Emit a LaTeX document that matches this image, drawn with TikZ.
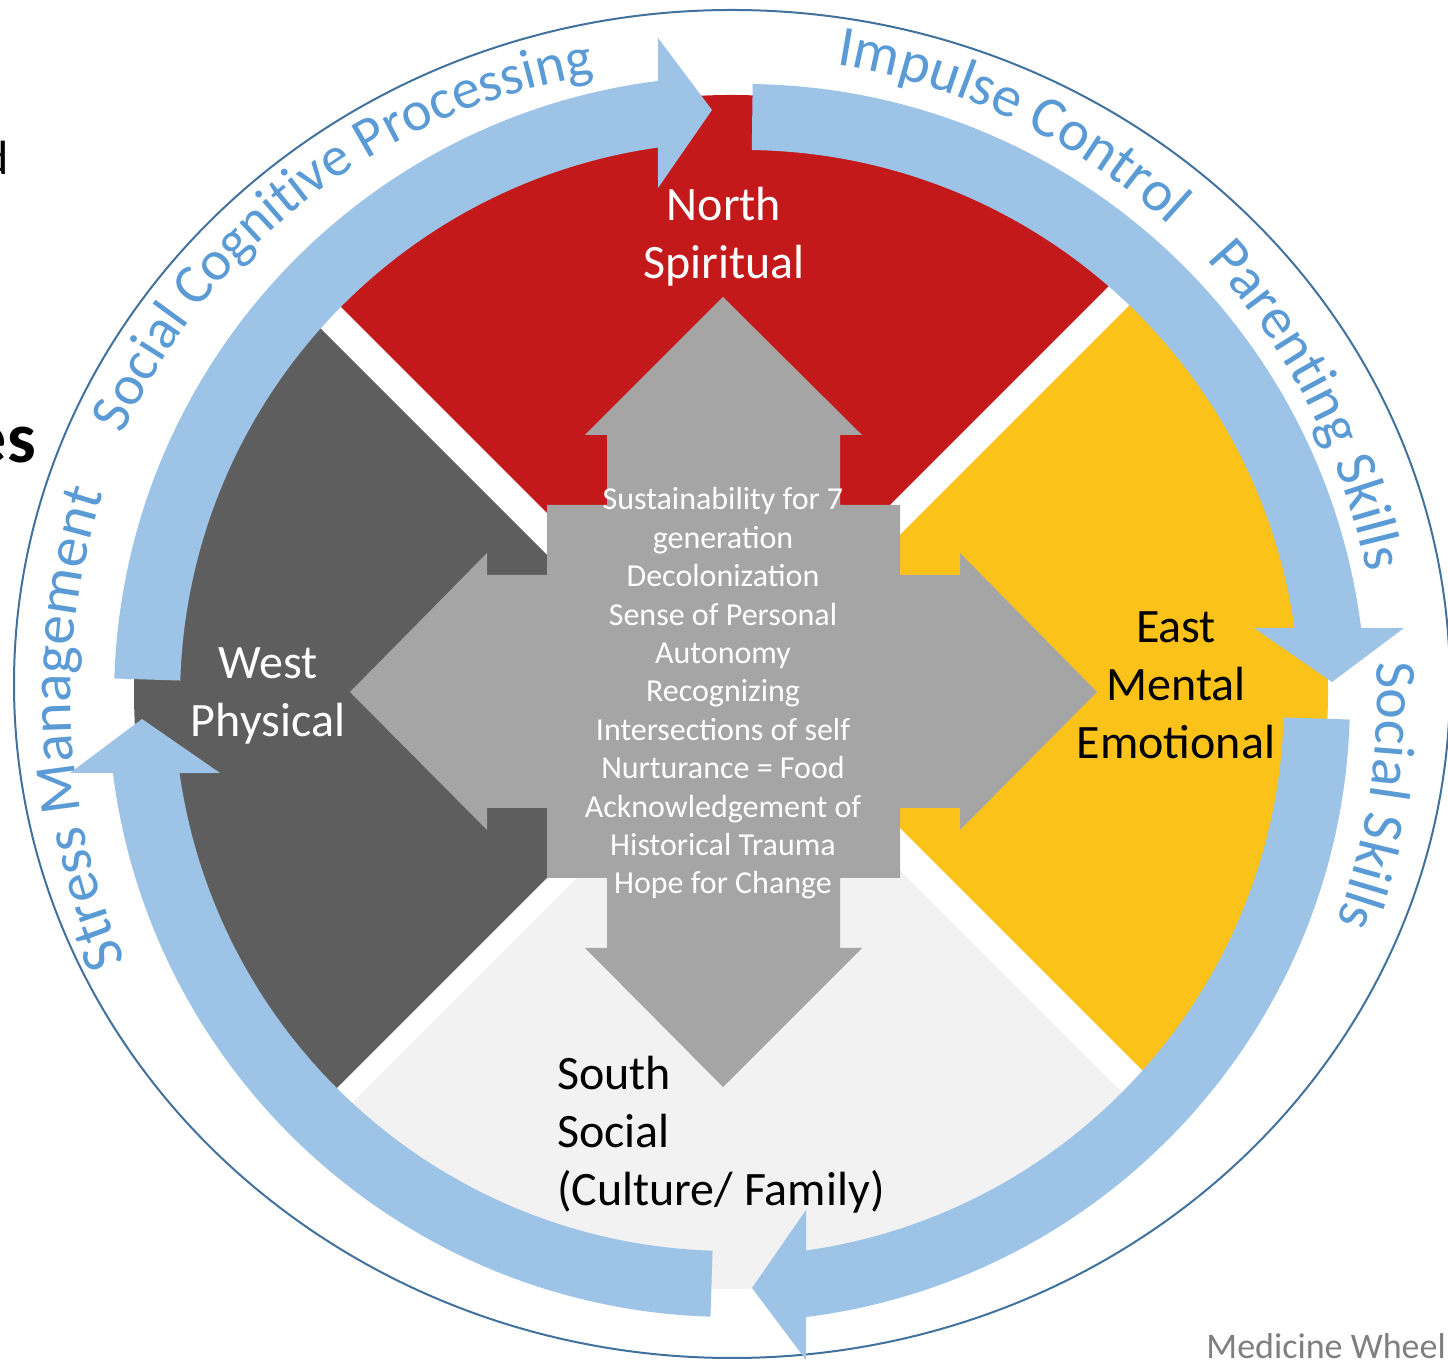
\documentclass[tikz,border=0pt]{standalone}
\usepackage{fontspec}
\setmainfont{Carlito}
\usetikzlibrary{decorations.text}

\definecolor{northred}{RGB}{196,25,27}
\definecolor{westgray}{RGB}{94,94,94}
\definecolor{eastgold}{RGB}{251,195,26}
\definecolor{southgray}{RGB}{242,242,242}
\definecolor{crossgray}{RGB}{165,165,165}
\definecolor{ringblue}{RGB}{157,195,230}
\definecolor{wordblue}{RGB}{91,155,213}
\definecolor{rimblue}{RGB}{65,113,156}
\definecolor{notegray}{RGB}{127,127,127}

\begin{document}
\begin{tikzpicture}[x=1pt, y=1pt,
    quarter/.style={fill=#1},
    ringarrow/.style={fill=ringblue},
    label/.style={font=\fontsize{48}{58}\selectfont, align=center, inner sep=0},
    arcword/.style 2 args={decorate, decoration={text along path, text color=wordblue,
        text align=left, text={|\fontsize{#1}{#1}\selectfont|#2}}}]
\useasboundingbox (0,0) rectangle (1448,1362);

% outer rim
\draw[rimblue, line width=2] (732,678) ellipse [x radius=718, y radius=674];

% four quarters of the wheel
\begin{scope}
    \clip (731,670) circle [radius=597];
    \fill[quarter=northred] (714.5,681.5) -- (-300,1696) -- (1700,1667) -- cycle;
    \fill[quarter=westgray] (708.5,645.5) -- (-300,1654) -- (-300,-363) -- cycle;
    \fill[quarter=eastgold] (753.5,680.5) -- (1800,1727) -- (1800,-366) -- cycle;
    \fill[quarter=southgray] (742.5,649.5) -- (-300,-393) -- (1800,-408) -- cycle;
\end{scope}

% ring of arrows
\foreach \turn/\dx/\dy/\from in {0/0/0/178.2, -90/8/-8/179.2, 180/-8/-2/178.2, 90/-6/3/178.2}
    \fill[ringarrow, shift={({736+\dx},{664+\dy})}, rotate=\turn]
        (\from:622) arc[start angle=\from, end angle=97.2, radius=622]
        -- (-78,660) -- (-24,588) -- (-78,510)
        -- (98.07:556) arc[start angle=98.07, end angle=\from, radius=556] -- cycle;

% centre cross
\fill[crossgray] (547,857) -- (607,857) -- (607,927) -- (585,927) -- (723,1065)
    -- (862,927) -- (840,927) -- (840,857) -- (900,857) -- (900,787) -- (960,787)
    -- (960,809) -- (1097,670) -- (960,532) -- (960,554) -- (900,554) -- (900,484)
    -- (840,484) -- (840,414) -- (862,414) -- (723,275) -- (585,414) -- (607,414)
    -- (607,484) -- (547,484) -- (547,554) -- (487,554) -- (487,532) -- (350,670)
    -- (487,809) -- (487,787) -- (547,787) -- cycle;

\node[label, text=white] (north) at (724,1125) {North\\Spiritual};
\node[label, text=white] (west) at (268,666) {West\\Physical};
\node[label] (east) at (1176,677) {East\\Mental\\Emotional};
\node[label, align=left, anchor=west] (south) at (557,227) {South\\Social\\(Culture/ Family)};

\node[text=white, font=\fontsize{32}{38.4}\selectfont, align=center, inner sep=0] (core) at (723,668.5)
    {Sustainability for 7\\generation\\Decolonization\\Sense of Personal\\Autonomy\\Recognizing\\%
     Intersections of self\\Nurturance = Food\\Acknowledgement of\\Historical Trauma\\Hope for Change};

% words round the rim
\path[arcword={56.5}{Social Cognitive Processing}] ([shift={(693,668)}]155.5:626.5)
    arc[start angle=155.5, end angle=80, radius=626.5];
\path[arcword={58}{Impulse Control}] ([shift={(736,664)}]81:641)
    arc[start angle=81, end angle=30, radius=641];
\path[arcword={58}{Parenting Skills}] ([shift={(736,664)}]43:643)
    arc[start angle=43, end angle=-5, radius=643];
\path[arcword={58}{Social Skills}] ([shift={(736,664)}]3.2:641)
    arc[start angle=3.2, end angle=-40, radius=641];
\path[arcword={59}{Stress Management}] ([shift={(736,664)}]203.3:665)
    arc[start angle=203.3, end angle=150, radius=665];

% cut-off slide text
\node[anchor=base east, inner sep=0, font=\fontsize{48}{48}\selectfont] (cutd) at (9,1187) {d};
\node[anchor=base east, inner sep=0, font=\bfseries\fontsize{72}{72}\selectfont] (cutes) at (36,899) {es};
\node[anchor=base east, inner sep=0, text=notegray, font=\fontsize{36}{36}\selectfont] (caption) at (1446,3) {Medicine Wheel};
\end{tikzpicture}
\end{document}
